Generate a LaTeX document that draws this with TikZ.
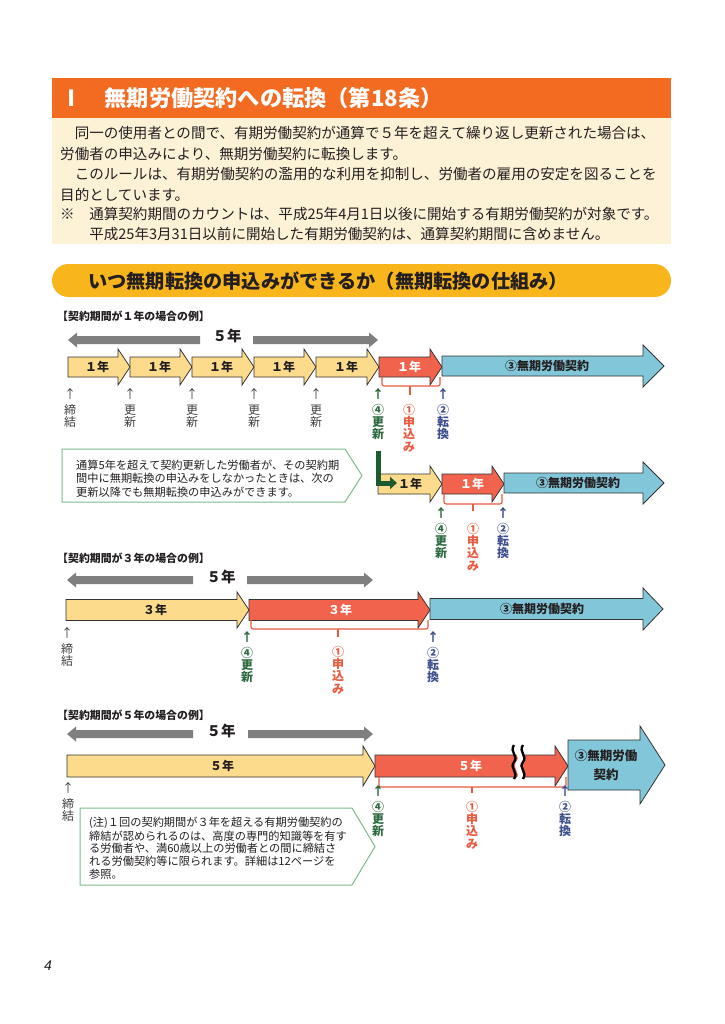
\documentclass[tikz,border=0pt]{standalone}
\usepackage{fontspec}
\setmainfont{Noto Sans CJK JP}
\newfontfamily\pagefont{Liberation Sans}
\usetikzlibrary{arrows.meta}
\definecolor{titleor}{HTML}{F26B21}
\definecolor{cream}{HTML}{FEF2D6}
\definecolor{pill}{HTML}{F9B51C}
\definecolor{yel}{HTML}{FCDC8C}
\definecolor{redarr}{HTML}{F2634D}
\definecolor{blu}{HTML}{82C7D9}
\definecolor{grayarr}{HTML}{7F7F7F}
\definecolor{dkgreen}{HTML}{1E5A30}
\definecolor{labgreen}{HTML}{2E6B40}
\definecolor{labred}{HTML}{EA5A40}
\definecolor{labblue}{HTML}{3D4F8E}
\definecolor{labgray}{HTML}{404040}
\definecolor{callgreen}{HTML}{7DBB8D}
\definecolor{txt}{HTML}{231F20}
\tikzset{
 outl/.style={draw=black!80, line width=0.8pt, line join=miter},
 yarr/.style={outl, fill=yel},
 rarr/.style={outl, fill=redarr},
 barr/.style={outl, fill=blu},
 arrtxt/.style={font=\bfseries\fontsize{12}{12}\selectfont, text=txt, inner sep=0},
 arrtxtw/.style={arrtxt, text=white},
 stack/.style={align=center, inner sep=0, font=\fontsize{12}{12.2}\selectfont, anchor=north},
 gstack/.style={stack, text=labgray},
 cstack/.style={stack, font=\bfseries\fontsize{12}{12.2}\selectfont},
 brk/.style={draw=labred, line width=1.1pt, rounded corners=2pt},
 callout/.style={draw=callgreen, line width=1pt, fill=white, line join=miter},
 calltxt/.style={anchor=west, inner sep=0, font=\fontsize{11.2}{13}\selectfont, text=txt},
 exlab/.style={anchor=west, inner sep=0, font=\bfseries\fontsize{10.9}{12}\selectfont, text=txt},
 fiveyr/.style={font=\bfseries\fontsize{14.5}{15}\selectfont, text=txt, inner sep=0},
 bodytxt/.style={anchor=west, inner sep=0, font=\fontsize{14.55}{16}\selectfont, text=txt},
}
% #1 style, #2 x0, #3 head base, #4 tip, #5 y centre, #6 body half, #7 head half
\newcommand\hshape[7]{\path[#1] (#2,#5-#6) -- (#3,#5-#6) -- (#3,#5-#7) -- (#4,#5) -- (#3,#5+#7) -- (#3,#5+#6) -- (#2,#5+#6) -- cycle;}
% gray double arrow: x0, gap start, gap end, x1, y
\newcommand\gdbl[5]{%
 \fill[grayarr] (#1,#5) -- (#1+9,#5-7.5) -- (#1+9,#5-4) -- (#2,#5-4) -- (#2,#5+4) -- (#1+9,#5+4) -- (#1+9,#5+7.5) -- cycle;
 \fill[grayarr] (#4,#5) -- (#4-9,#5-7.5) -- (#4-9,#5-4) -- (#3,#5-4) -- (#3,#5+4) -- (#4-9,#5+4) -- (#4-9,#5+7.5) -- cycle;}
\begin{document}
\begin{tikzpicture}[x=1pt,y=-1pt]
\useasboundingbox (0,0) rectangle (724,1024);
\fill[white] (0,0) rectangle (724,1024);
% header
\fill[titleor] (52,78) rectangle (671,118);
\node[anchor=west, inner sep=0, text=white, font=\bfseries\fontsize{22.2}{23}\selectfont] (title) at (60,98) {Ⅰ　無期労働契約への転換（第18条）};
\fill[cream] (52,118) rectangle (671,244);
\node[bodytxt] (b1) at (60,133) {　同一の使用者との間で、有期労働契約が通算で５年を超えて繰り返し更新された場合は、};
\node[bodytxt] (b2) at (60,154) {労働者の申込みにより、無期労働契約に転換します。};
\node[bodytxt] (b3) at (60,174) {　このルールは、有期労働契約の濫用的な利用を抑制し、労働者の雇用の安定を図ることを};
\node[bodytxt] (b4) at (60,195) {目的としています。};
\node[bodytxt] (b5) at (60,214) {※　通算契約期間のカウントは、平成25年4月1日以後に開始する有期労働契約が対象です。};
\node[bodytxt] (b6) at (60,234) {　　平成25年3月31日以前に開始した有期労働契約は、通算契約期間に含めません。};
% section pill
\fill[pill, rounded corners=16.5pt] (52,264) rectangle (671,297);
\node[anchor=west, inner sep=0, text=txt, font=\bfseries\fontsize{19.2}{20}\selectfont] (sec) at (88,281) {いつ無期転換の申込みができるか（無期転換の仕組み）};

% ===== example 1 =====
\node[exlab] (ex1) at (57,316) {【契約期間が１年の場合の例】};
\gdbl{68}{200}{253}{378}{340}
\node[fiveyr] (f1) at (227,336) {５年};
\hshape{yarr}{68}{118}{130}{367}{10}{18}
\hshape{yarr}{130}{180}{192}{367}{10}{18}
\hshape{yarr}{192}{242}{254}{367}{10}{18}
\hshape{yarr}{254}{304}{316}{367}{10}{18}
\hshape{yarr}{316}{367}{379}{367}{10}{18}
\hshape{rarr}{379}{430}{442}{367}{10}{18}
\hshape{barr}{442}{643}{664}{366}{10}{21}
\node[arrtxt] (y11) at (97,367) {１年};
\node[arrtxt] (y12) at (159,367) {１年};
\node[arrtxt] (y13) at (221,367) {１年};
\node[arrtxt] (y14) at (283,367) {１年};
\node[arrtxt] (y15) at (346,367) {１年};
\node[arrtxtw] (r1) at (409,367) {１年};
\node[arrtxt] (bl1) at (547,366) {③無期労働契約};
\draw[brk] (382,377) -- (382,386) -- (440,386) -- (440,377);
\draw[brk] (410,386) -- (410,395);
\node[gstack] (s11) at (70,388) {↑\\[4pt]締\\結};
\node[gstack] (s12) at (130,388) {↑\\[4pt]更\\新};
\node[gstack] (s13) at (192,388) {↑\\[4pt]更\\新};
\node[gstack] (s14) at (254,388) {↑\\[4pt]更\\新};
\node[gstack] (s15) at (316,388) {↑\\[4pt]更\\新};
\node[cstack, text=labgreen] (s16) at (378,388) {↑\\[4pt]④\\更\\新};
\node[cstack, text=labred] (s17) at (409,404) {①\\申\\込\\み};
\node[cstack, text=labblue] (s18) at (443,388) {↑\\[4pt]②\\転\\換};
% callout 1
\draw[callout] (62,449) -- (345,449) -- (362,475.5) -- (345,502) -- (62,502) -- cycle;
\node[calltxt] (c11) at (76,465) {通算5年を超えて契約更新した労働者が、その契約期};
\node[calltxt] (c12) at (76,478.5) {間中に無期転換の申込みをしなかったときは、次の};
\node[calltxt] (c13) at (76,492) {更新以降でも無期転換の申込みができます。};
% row 2
\hshape{yarr}{378}{430}{442}{484}{10}{18}
\hshape{rarr}{442}{492}{504}{484}{10}{18}
\hshape{barr}{504}{643}{664}{483}{10}{21}
\coordinate (gtop) at (378.5,451);
\coordinate (gend) at (397,483);
\draw[dkgreen, line width=5pt, -{Triangle[length=7pt,width=12pt]}] (gtop) |- (gend);
\node[arrtxt] (y21) at (410,484) {１年};
\node[arrtxtw] (r2) at (472,484) {１年};
\node[arrtxt] (bl2) at (578,483) {③無期労働契約};
\draw[brk] (444,494) -- (444,504) -- (502,504) -- (502,494);
\draw[brk] (473,504) -- (473,511);
\node[cstack, text=labgreen] (s21) at (441,507) {↑\\[4pt]④\\更\\新};
\node[cstack, text=labred] (s22) at (473,523) {①\\申\\込\\み};
\node[cstack, text=labblue] (s23) at (503,507) {↑\\[4pt]②\\転\\換};

% ===== example 3 =====
\node[exlab] (ex3) at (57,558) {【契約期間が３年の場合の例】};
\gdbl{67}{193}{247}{373}{580}
\node[fiveyr] (f3) at (221,577) {５年};
\hshape{yarr}{66}{237}{249}{610}{10.5}{18}
\hshape{rarr}{249}{418}{430}{610}{10.5}{18}
\hshape{barr}{430}{643}{663}{609}{10.5}{21}
\node[arrtxt] (y31) at (155,610) {３年};
\node[arrtxtw] (r3) at (340,610) {３年};
\node[arrtxt] (bl3) at (542,609) {③無期労働契約};
\draw[brk] (251,620) -- (251,629) -- (428,629) -- (428,620);
\draw[brk] (338,629) -- (338,637);
\node[gstack] (s31) at (67,627) {↑\\[4pt]締\\結};
\node[cstack, text=labgreen] (s32) at (247,631) {↑\\[4pt]④\\更\\新};
\node[cstack, text=labred] (s33) at (338,646) {①\\申\\込\\み};
\node[cstack, text=labblue] (s34) at (433,631) {↑\\[4pt]②\\転\\換};

% ===== example 5 =====
\node[exlab] (ex5) at (57,715) {【契約期間が５年の場合の例】};
\gdbl{67}{193}{248}{373}{734}
\node[fiveyr] (f5) at (221,731) {５年};
\hshape{yarr}{67}{363}{375}{766}{11}{20}
\hshape{rarr}{375}{555}{568}{766}{11}{20}
\hshape{barr}{568}{640}{665}{765}{25}{39}
\node[arrtxt] (y41) at (222,766) {５年};
\node[arrtxtw] (r4) at (470,766) {５年};
\node[align=center, inner sep=0, text=txt, font=\bfseries\fontsize{12.5}{19}\selectfont] (bl4) at (606,765) {③無期労働\\契約};
% break mark
\draw[white, line width=5pt] (519,745) .. controls (514,752) and (524,756) .. (519,762) .. controls (514,768) and (524,772) .. (519,779);
\draw[black, line width=2.3pt] (514,745) .. controls (509,752) and (519,756) .. (514,762) .. controls (509,768) and (519,772) .. (514,779);
\draw[black, line width=2.3pt] (523,745) .. controls (518,752) and (528,756) .. (523,762) .. controls (518,768) and (528,772) .. (523,779);
\draw[brk] (379,777) -- (379,787) -- (566,787) -- (566,777);
\draw[brk] (472,787) -- (472,793);
\node[gstack] (s41) at (68,782) {↑\\[4pt]締\\結};
\node[cstack, text=labgreen] (s42) at (378,785) {↑\\[4pt]④\\更\\新};
\node[cstack, text=labred] (s43) at (472,801) {①\\申\\込\\み};
\node[cstack, text=labblue] (s44) at (565,785) {↑\\[4pt]②\\転\\換};
% callout 2
\draw[callout] (80,808) -- (352,808) -- (375,846.5) -- (352,885) -- (80,885) -- cycle;
\node[calltxt] (c21) at (89,823) {(注)１回の契約期間が３年を超える有期労働契約の};
\node[calltxt] (c22) at (89,835.75) {締結が認められるのは、高度の専門的知識等を有す};
\node[calltxt] (c23) at (89,848.5) {る労働者や、満60歳以上の労働者との間に締結さ};
\node[calltxt] (c24) at (89,861.25) {れる労働契約等に限られます。詳細は12ページを};
\node[calltxt] (c25) at (89,874) {参照。};
% page number
\node[inner sep=0, text=txt, font=\pagefont\itshape\fontsize{14}{14}\selectfont] (pg) at (48,966) {4};
\end{tikzpicture}
\end{document}
